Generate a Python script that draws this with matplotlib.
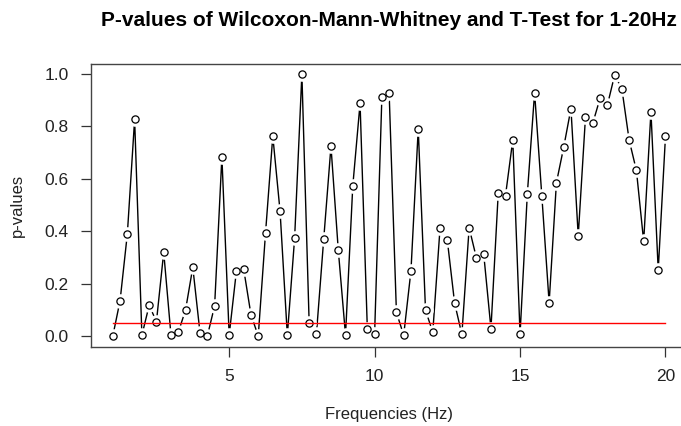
import numpy as np
import matplotlib
matplotlib.use("Agg")
import matplotlib.pyplot as plt

plt.rcParams['font.family'] = ['Liberation Sans', 'DejaVu Sans']

# frequenze da 1 a 20 Hz, passo 0.25
freqs = np.arange(1, 20.01, 0.25)

pvalues = [
    0.000, 0.135, 0.390, 0.827, 0.003, 0.117, 0.055, 0.320, 0.003, 0.014,
    0.099, 0.262, 0.010, 0.000, 0.115, 0.684, 0.003, 0.249, 0.255, 0.081,
    0.000, 0.393, 0.763, 0.476, 0.003, 0.373, 1.000, 0.050, 0.008, 0.369,
    0.724, 0.330, 0.003, 0.573, 0.888, 0.028, 0.008, 0.913, 0.927, 0.090,
    0.003, 0.249, 0.791, 0.099, 0.014, 0.413, 0.365, 0.126, 0.006, 0.413,
    0.298, 0.314, 0.028, 0.545, 0.536, 0.748, 0.006, 0.542, 0.929, 0.533,
    0.127, 0.585, 0.720, 0.868, 0.382, 0.837, 0.812, 0.907, 0.880, 0.995,
    0.944, 0.748, 0.632, 0.361, 0.856, 0.251, 0.763,
]

soglia = 0.05
xticks = [5, 10, 15, 20]
yticks = [0.0, 0.2, 0.4, 0.6, 0.8, 1.0]

fig = plt.figure(figsize=(6.81, 4.26), dpi=100)
W, H = 681, 426
left, right, top, bottom = 90.7, 687.6, 63.5, 346.5
ax = fig.add_axes([left / W, 1 - bottom / H, (right - left) / W, (bottom - top) / H])

# tipo "b" di R: linea con spazi attorno ai punti
ax.plot(freqs, pvalues, color='black', lw=1.0, zorder=2)
ax.plot(freqs, pvalues, 'o', ms=10.5, mfc='white', mec='none', zorder=3)
ax.plot(freqs, pvalues, 'o', ms=5.2, mfc='white', mec='black', mew=0.9, zorder=4)

# linea di soglia
ax.plot([freqs[0], freqs[-1]], [soglia, soglia], color='#ff0000', lw=1.0, zorder=5)

pad_x = (freqs[-1] - freqs[0]) * 0.04
ax.set_xlim(freqs[0] - pad_x, freqs[-1] + pad_x)
ax.set_ylim(-0.04, 1.04)

ax.set_xticks(xticks)
ax.set_xticklabels([str(t) for t in xticks])
ax.set_yticks(yticks)
ax.set_yticklabels([f"{t:.1f}" for t in yticks])
ax.tick_params(direction='out', length=7, width=0.9, labelsize=12.5, pad=9, colors='#333333',
               labelcolor='#222222')

for s in ax.spines.values():
    s.set_linewidth(1.0)
    s.set_color('#444444')

ax.set_xlabel("Frequencies (Hz)", fontsize=12, color='#222222', labelpad=17)
ax.set_ylabel("p-values", fontsize=12, color='#222222', labelpad=14)
fig.text((left + right) / 2 / W, 1 - 21 / H,
         "P-values of Wilcoxon-Mann-Whitney and T-Test for 1-20Hz",
         ha='center', va='center', fontsize=15, fontweight='bold')

fig.savefig("out.png", dpi=100)
